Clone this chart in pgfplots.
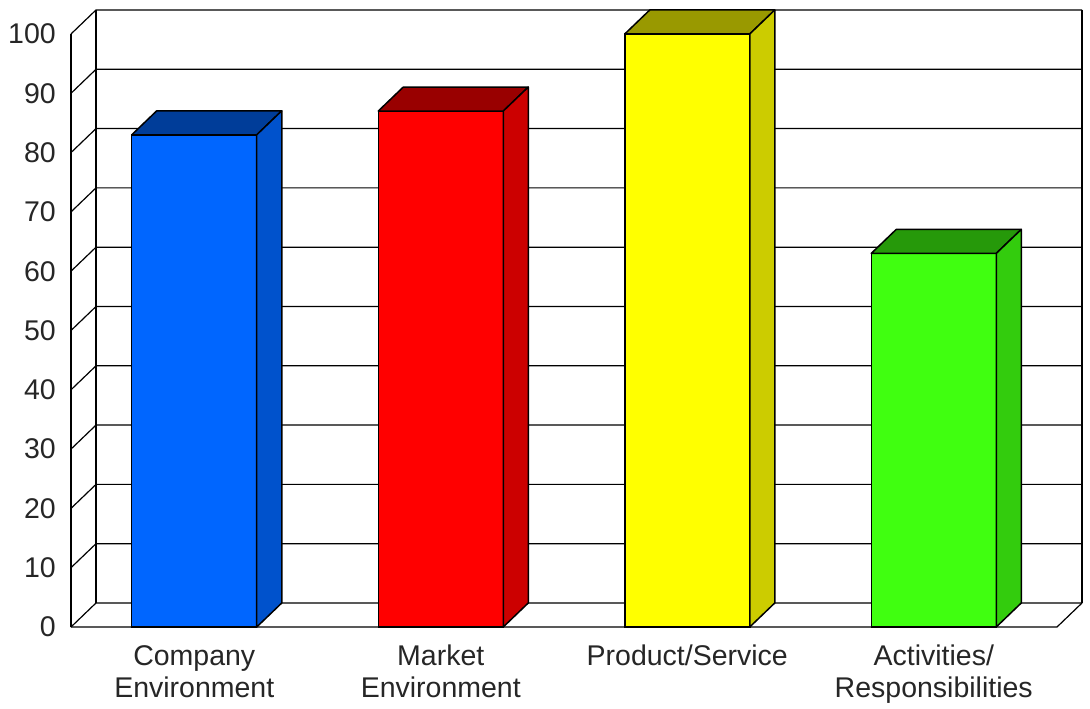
\documentclass[border=0pt]{standalone}
\usepackage{pgfplots}
\pgfplotsset{compat=1.18}
\usepackage{fontspec}
\setmainfont{Liberation Sans}

\definecolor{bluefront}{RGB}{0,102,255}
\definecolor{bluetop}{RGB}{0,61,153}
\definecolor{blueside}{RGB}{0,82,204}
\definecolor{redfront}{RGB}{255,0,0}
\definecolor{redtop}{RGB}{153,0,0}
\definecolor{redside}{RGB}{204,0,0}
\definecolor{yelfront}{RGB}{255,255,0}
\definecolor{yeltop}{RGB}{153,153,0}
\definecolor{yelside}{RGB}{204,204,0}
\definecolor{grnfront}{RGB}{64,255,16}
\definecolor{grntop}{RGB}{38,153,10}
\definecolor{grnside}{RGB}{51,204,13}

\pgfplotsset{
  faces/.style 2 args={
    only marks, scatter, mark=*, mark size=0pt,
    mark options={draw=none, fill=none},
    visualization depends on={y \as \barv},
    scatter/@pre marker code/.code={%
      \pgfmathsetmacro\hh{-\barv*5.93}%
      \pgfmathsetmacro\hb{24-\barv*5.93}%
      \filldraw[fill=#1, draw=black, line width=1.5pt, line join=round]
        (-62.5pt,0pt) -- (-37.5pt,24pt) -- (87.5pt,24pt) -- (62.5pt,0pt) -- cycle;
      \filldraw[fill=#2, draw=black, line width=1.5pt, line join=round]
        (62.5pt,0pt) -- (87.5pt,24pt) -- (87.5pt,\hb pt) -- (62.5pt,\hh pt) -- cycle;
    },
    scatter/@post marker code/.code={},
  },
  front/.style={ybar, bar width=125pt, bar shift=0pt, fill=#1, draw=black, line width=1.5pt},
}

\begin{document}
\begin{tikzpicture}
\begin{axis}[
  x=246.5pt, y=5.93pt,
  xmin=0, xmax=4.1014, ymin=0, ymax=104.05,
  axis line style={draw=none},
  major tick length=0pt,
  ytick={0,10,...,100},
  xtick={0.5,1.5,2.5,3.5},
  xticklabels={{Company\\Environment},{Market\\Environment},{Product/Service},{Activities/\\Responsibilities}},
  tick label style={font=\fontsize{28.5}{32}\selectfont, text=black!85},
  xticklabel style={align=center, anchor=north, inner sep=0pt, yshift=-18pt},
  yticklabel style={anchor=east, inner sep=0pt, xshift=-15pt},
  /pgf/number format/assume math mode=true,
  clip=false,
]
\path (axis cs:0,0) ++(-71pt,-82pt) rectangle ++(1090pt,709pt);
% frame
\pgfplotsinvokeforeach{0,10,20,30,40,50,60,70,80,90,100}{
  \draw[black, line width=1.2pt] (axis cs:0,#1) -- ++(25pt,24pt) -- ++(986pt,0pt);
}
\draw[black, line width=1.2pt] (axis cs:0,0) -- (axis cs:0,100);
\draw[black, line width=1.2pt] (axis cs:0,0) ++(25pt,24pt) -- ++(0pt,593pt);
\draw[black, line width=1.2pt] (axis cs:4,0) ++(25pt,24pt) -- ++(0pt,593pt);
\draw[black, line width=1.2pt] (axis cs:0,0) -- (axis cs:4,0) -- ++(25pt,24pt);
% bars
\addplot[faces={bluetop}{blueside}] coordinates {(0.5,83)};
\addplot[faces={redtop}{redside}] coordinates {(1.5,87)};
\addplot[faces={yeltop}{yelside}] coordinates {(2.5,100)};
\addplot[faces={grntop}{grnside}] coordinates {(3.5,63)};
\addplot[front=bluefront] coordinates {(0.5,83)};
\addplot[front=redfront] coordinates {(1.5,87)};
\addplot[front=yelfront] coordinates {(2.5,100)};
\addplot[front=grnfront] coordinates {(3.5,63)};
\end{axis}
\end{tikzpicture}
\end{document}
